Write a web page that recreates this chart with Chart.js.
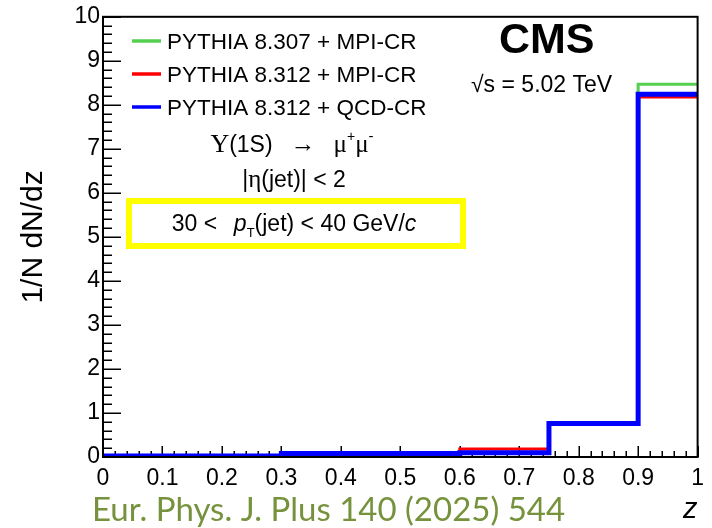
<!DOCTYPE html>
<html>
<head>
<meta charset="utf-8">
<title>Upsilon(1S) in jets - z distribution</title>
<style>
  body { margin: 0; background: #fff; }
  #wrap { position: relative; width: 712px; height: 528px; }
</style>
</head>
<body>

<div id="wrap">
    <canvas id="myChart" width="712" height="528"></canvas>
</div>

<script src="https://cdn.jsdelivr.net/npm/chart.js"></script>

<script>

    // histogram binning in z and bin contents for each generator setup
    const binEdges = [0, 0.3, 0.6, 0.75, 0.9, 1.0];
    const mpi307 = [0.02, 0.02, 0.10, 0.76, 8.47];
    const mpi312 = [0.02, 0.08, 0.18, 0.76, 8.18];
    const qcd312 = [0.02, 0.08, 0.095, 0.76, 8.24];

    const seriesLabels = ['PYTHIA 8.307 + MPI-CR', 'PYTHIA 8.312 + MPI-CR', 'PYTHIA 8.312 + QCD-CR'];
    const seriesColors = ['#55cf4f', '#ff0000', '#0000ff'];
    const seriesWidths = [3, 3, 5];

    const xTickLabels = ['0', '0.1', '0.2', '0.3', '0.4', '0.5', '0.6', '0.7', '0.8', '0.9', '1'];
    const yTickLabels = ['0', '1', '2', '3', '4', '5', '6', '7', '8', '9', '10'];

    const SANS = "'Liberation Sans', Arial, sans-serif";
    const SERIF = "'Liberation Serif', 'Times New Roman', serif";

    // one point per left bin edge, plus the closing right edge
    function toSteps(vals) {
        return binEdges.map((e, i) => ({ x: e, y: vals[Math.min(i, vals.length - 1)] }));
    }

    // draws a row of text pieces (different fonts / offsets) centred on cx
    function drawRuns(ctx, runs, cx, baseY) {
        let total = 0;
        runs.forEach(r => {
            ctx.font = r.font;
            r.w = ctx.measureText(r.text).width + (r.gap || 0);
            total += r.w;
        });
        let x = cx - total / 2;
        runs.forEach(r => {
            ctx.font = r.font;
            ctx.fillText(r.text, x, baseY + (r.dy || 0));
            x += r.w;
        });
    }

    const axisTicks = {
        id: 'axisTicks',
        beforeDatasetsDraw(chart) {
            const { ctx, chartArea: a, scales: { x, y } } = chart;
            ctx.save();
            ctx.strokeStyle = '#000';
            ctx.lineWidth = 1.5;
            for (let i = 0; i <= 50; i++) {
                const px = Math.round(x.getPixelForValue(i / 50)) + 0.25;
                const len = i % 5 === 0 ? 11 : 6;
                ctx.beginPath();
                ctx.moveTo(px, a.bottom);
                ctx.lineTo(px, a.bottom - len);
                ctx.stroke();
            }
            for (let i = 0; i <= 50; i++) {
                const py = Math.round(y.getPixelForValue(i / 5)) + 0.25;
                const len = i % 5 === 0 ? 18 : 9;
                ctx.beginPath();
                ctx.moveTo(a.left, py);
                ctx.lineTo(a.left + len, py);
                ctx.stroke();
            }
            ctx.restore();
        },
        afterDatasetsDraw(chart) {
            const { ctx, chartArea: a } = chart;
            ctx.save();
            ctx.strokeStyle = '#000';
            ctx.lineWidth = 2;
            ctx.strokeRect(a.left, a.top, a.right - a.left, a.bottom - a.top);
            ctx.restore();
        }
    };

    const annotations = {
        id: 'annotations',
        afterDraw(chart) {
            const ctx = chart.ctx;
            ctx.save();
            ctx.fillStyle = '#000';
            ctx.textBaseline = 'alphabetic';
            ctx.textAlign = 'left';

            // legend
            const rows = [49, 82, 115];
            chart.data.datasets.forEach((ds, i) => {
                const yc = rows[i] - 8;
                ctx.strokeStyle = ds.borderColor;
                ctx.lineWidth = 3.5;
                ctx.beginPath();
                ctx.moveTo(132, yc);
                ctx.lineTo(161, yc);
                ctx.stroke();
                ctx.fillStyle = '#000';
                ctx.font = '22.5px ' + SANS;
                ctx.fillText(ds.label, 167, rows[i]);
            });

            // experiment + energy
            ctx.font = 'bold 43px ' + SANS;
            ctx.fillText('CMS', 499, 53);
            ctx.font = '23px ' + SANS;
            ctx.fillText('\u221As = 5.02 TeV', 471, 92);

            // decay channel and selection
            drawRuns(ctx, [
                { text: '\u03A5', font: '26px ' + SERIF },
                { text: '(1S)', font: '23px ' + SANS, gap: 18 },
                { text: '\u2192', font: '25px ' + SERIF, gap: 18 },
                { text: '\u03BC', font: '25px ' + SERIF },
                { text: '+', font: '14px ' + SANS, dy: -11 },
                { text: '\u03BC', font: '25px ' + SERIF },
                { text: '-', font: '15px ' + SANS, dy: -11 }
            ], 292, 152);

            drawRuns(ctx, [
                { text: '|', font: '23px ' + SANS },
                { text: '\u03B7', font: '25px ' + SERIF },
                { text: '(jet)| < 2', font: '23px ' + SANS }
            ], 294, 187);

            // highlighted jet pT window
            ctx.strokeStyle = '#ffff00';
            ctx.lineWidth = 6;
            ctx.strokeRect(129, 201, 334, 45);
            drawRuns(ctx, [
                { text: '30 <  ', font: '23px ' + SANS, gap: 4 },
                { text: 'p', font: 'italic 23px ' + SANS },
                { text: 'T', font: '13px ' + SANS, dy: 6 },
                { text: '(jet) < 40 GeV/', font: '23px ' + SANS },
                { text: 'c', font: 'italic 23px ' + SANS }
            ], 294, 231);

            // journal reference
            ctx.fillStyle = '#76923c';
            ctx.font = '33px Lato, ' + SANS;
            ctx.fillText('Eur. Phys. J. Plus 140 (2025) 544', 92, 521);
            ctx.restore();
        }
    };

    // blue is drawn last so it sits on top of the other two
    const series = [mpi307, mpi312, qcd312];
    const drawOrder = [2, 1, 0];
    const data = {
        datasets: series.map((vals, i) => ({
            label: seriesLabels[i],
            data: toSteps(vals),
            borderColor: seriesColors[i],
            backgroundColor: seriesColors[i],
            borderWidth: seriesWidths[i],
            order: drawOrder[i],
            stepped: 'before',
            pointRadius: 0,
            fill: false,
            borderCapStyle: 'butt',
            borderJoinStyle: 'miter'
        }))
    };

    const config = {
        type: 'line',
        data: data,
        options: {
            responsive: false,
            animation: false,
            devicePixelRatio: 1,
            layout: { padding: { top: 15, right: 12, left: 0, bottom: 0 } },
            scales: {
                x: {
                    type: 'linear',
                    min: 0,
                    max: 1,
                    afterFit(scale) { scale.height = 71; },
                    afterBuildTicks(scale) {
                        scale.ticks = xTickLabels.map((t, i) => ({ value: i / 10 }));
                    },
                    grid: { display: false, drawTicks: false },
                    border: { display: false },
                    ticks: {
                        padding: 8,
                        maxRotation: 0,
                        autoSkip: false,
                        color: '#000',
                        font: { family: SANS, size: 23 },
                        callback: (v, i) => xTickLabels[i]
                    },
                    title: {
                        display: true,
                        text: 'z',
                        align: 'end',
                        color: '#000',
                        font: { family: SANS, size: 29, style: 'italic' },
                        padding: { top: 0, bottom: 1 }
                    }
                },
                y: {
                    type: 'linear',
                    min: 0,
                    max: 10,
                    afterFit(scale) { scale.width = 103; },
                    afterBuildTicks(scale) {
                        scale.ticks = yTickLabels.map((t, i) => ({ value: i }));
                    },
                    grid: { display: false, drawTicks: false },
                    border: { display: false },
                    ticks: {
                        padding: 3,
                        autoSkip: false,
                        color: '#000',
                        font: { family: SANS, size: 23 },
                        callback: (v, i) => yTickLabels[i]
                    },
                    title: {
                        display: true,
                        text: '1/N dN/dz',
                        color: '#000',
                        font: { family: SANS, size: 30 },
                        padding: { top: 16, bottom: 0 }
                    }
                }
            },
            plugins: {
                legend: { display: false },
                tooltip: { enabled: false }
            }
        },
        plugins: [axisTicks, annotations]
    };

    const xChart = new Chart(document.getElementById('myChart'), config);

</script>

</body>
</html>
